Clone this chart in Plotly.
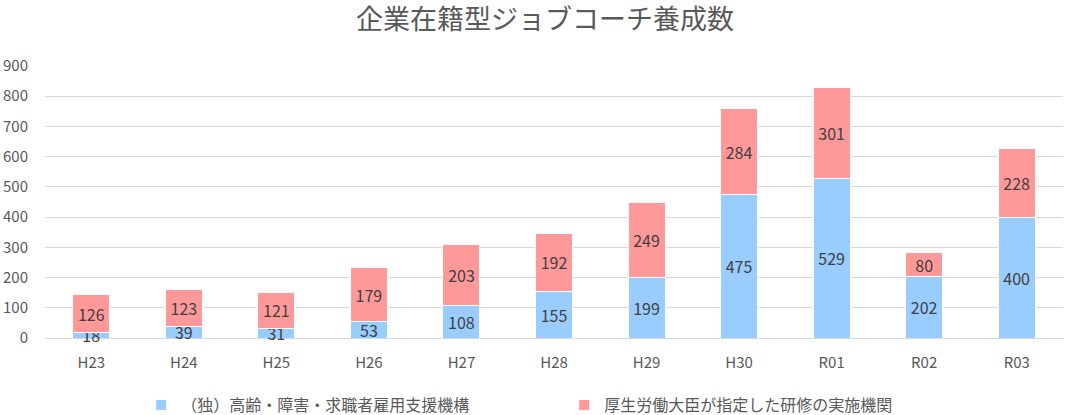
import plotly.graph_objects as go

categories = ["H23", "H24", "H25", "H26", "H27", "H28", "H29", "H30", "R01", "R02", "R03"]
series1_name = "（独）高齢・障害・求職者雇用支援機構"
series1_values = [18, 39, 31, 53, 108, 155, 199, 475, 529, 202, 400]
series2_name = "厚生労働大臣が指定した研修の実施機関"
series2_values = [126, 123, 121, 179, 203, 192, 249, 284, 301, 80, 228]
title_text = "企業在籍型ジョブコーチ養成数"
y_ticks = [0, 100, 200, 300, 400, 500, 600, 700, 800, 900]

FONT = "Noto Sans CJK JP, Noto Sans, sans-serif"
W, H = 1090, 415

fig = go.Figure()
for name, vals, col in [(series1_name, series1_values, "#99CCFF"),
                        (series2_name, series2_values, "#FF9999")]:
    fig.add_trace(go.Bar(
        x=categories, y=vals, name=name,
        marker=dict(color=col, line=dict(color="white", width=1)),
        text=vals, textposition="inside", insidetextanchor="middle", textangle=0,
        constraintext="none", cliponaxis=False,
        textfont=dict(size=16, color="#404040", family=FONT),
    ))

fig.update_layout(
    barmode="stack",
    bargap=0.6,
    width=W, height=H,
    margin=dict(l=45, r=27, t=66, b=77, autoexpand=False),
    paper_bgcolor="white", plot_bgcolor="white",
    font=dict(family=FONT, color="#595959", size=15),
    title=dict(text=title_text, x=545 / W, xanchor="center",
               y=1 - 20 / H, yref="container", yanchor="middle",
               font=dict(size=27, color="#595959", family=FONT)),
    uniformtext=dict(minsize=16, mode="show"),
    showlegend=True,
    legend=dict(orientation="h", x=0.51, xanchor="center",
                y=10 / H, yref="container", yanchor="middle",
                font=dict(size=16, color="#595959"),
                entrywidth=378, entrywidthmode="pixels",
                traceorder="normal", itemsizing="constant"),
    xaxis=dict(showgrid=False, showline=False, ticks="", automargin=False,
               ticklabelstandoff=14,
               tickfont=dict(size=15, color="#595959")),
    yaxis=dict(range=[0, 900], tickvals=y_ticks, showgrid=True, gridcolor="#D9D9D9",
               gridwidth=1, zeroline=True, zerolinecolor="#D9D9D9", zerolinewidth=1,
               showline=False, ticks="", ticklabelstandoff=16, automargin=False,
               tickfont=dict(size=15, color="#595959")),
)

fig.write_html("out.html", config={"displayModeBar": False},
               post_script="document.body.style.margin='0';document.body.style.overflow='hidden';")
